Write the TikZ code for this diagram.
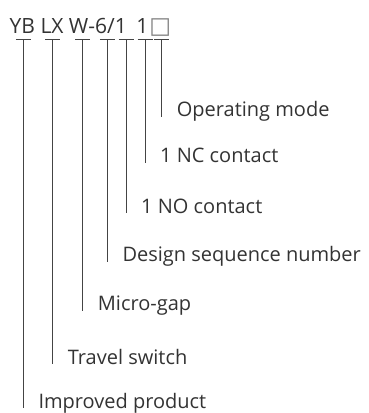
\documentclass[tikz,border=0pt]{standalone}
\usepackage{fontspec}
\setmainfont{Open Sans}
\newfontfamily\symfont{DejaVu Sans}
\definecolor{txt}{HTML}{333333}
\definecolor{ln}{HTML}{444444}
\begin{document}
\begin{tikzpicture}[x=1pt,y=-1pt,
  lbl/.style={anchor=base west,inner sep=0pt,text=txt,font=\fontsize{20}{22}\selectfont},
  tee/.style={draw=ln,line width=0.8pt}]
\useasboundingbox (0,0) rectangle (368,413);
\node[lbl,font=\fontsize{21}{24}\selectfont] (title) at (9.5,33) {YB LX W-6/1\hspace{4pt} 1\hspace{1pt}{\symfont\fontsize{23}{26}\selectfont\color{gray}□}};
% T tops
\foreach \n/\x in {a/23.3,b/52.7,c/82.7,d/107.3,e/126,f/145,g/161.7}{
  \coordinate (t\n) at (\x,39.5);
}
\node[lbl] (lg) at (176.7,116.7) {Operating mode};
\node[lbl] (lf) at (160,162.7) {1 NC contact};
\node[lbl] (le) at (141,213) {1 NO contact};
\node[lbl] (ld) at (122.3,261.7) {Design sequence number};
\node[lbl] (lc) at (97.7,310.7) {Micro-gap};
\node[lbl] (lb) at (67.7,364) {Travel switch};
\node[lbl] (la) at (38.3,408) {Improved product};
\foreach \n in {a,b,c,d,e,f,g}{
  \draw[tee] ([xshift=-7.5pt]t\n) -- ([xshift=7.5pt]t\n);
  \draw[tee] (t\n) -- (t\n |- l\n.base);
}
\end{tikzpicture}
\end{document}
